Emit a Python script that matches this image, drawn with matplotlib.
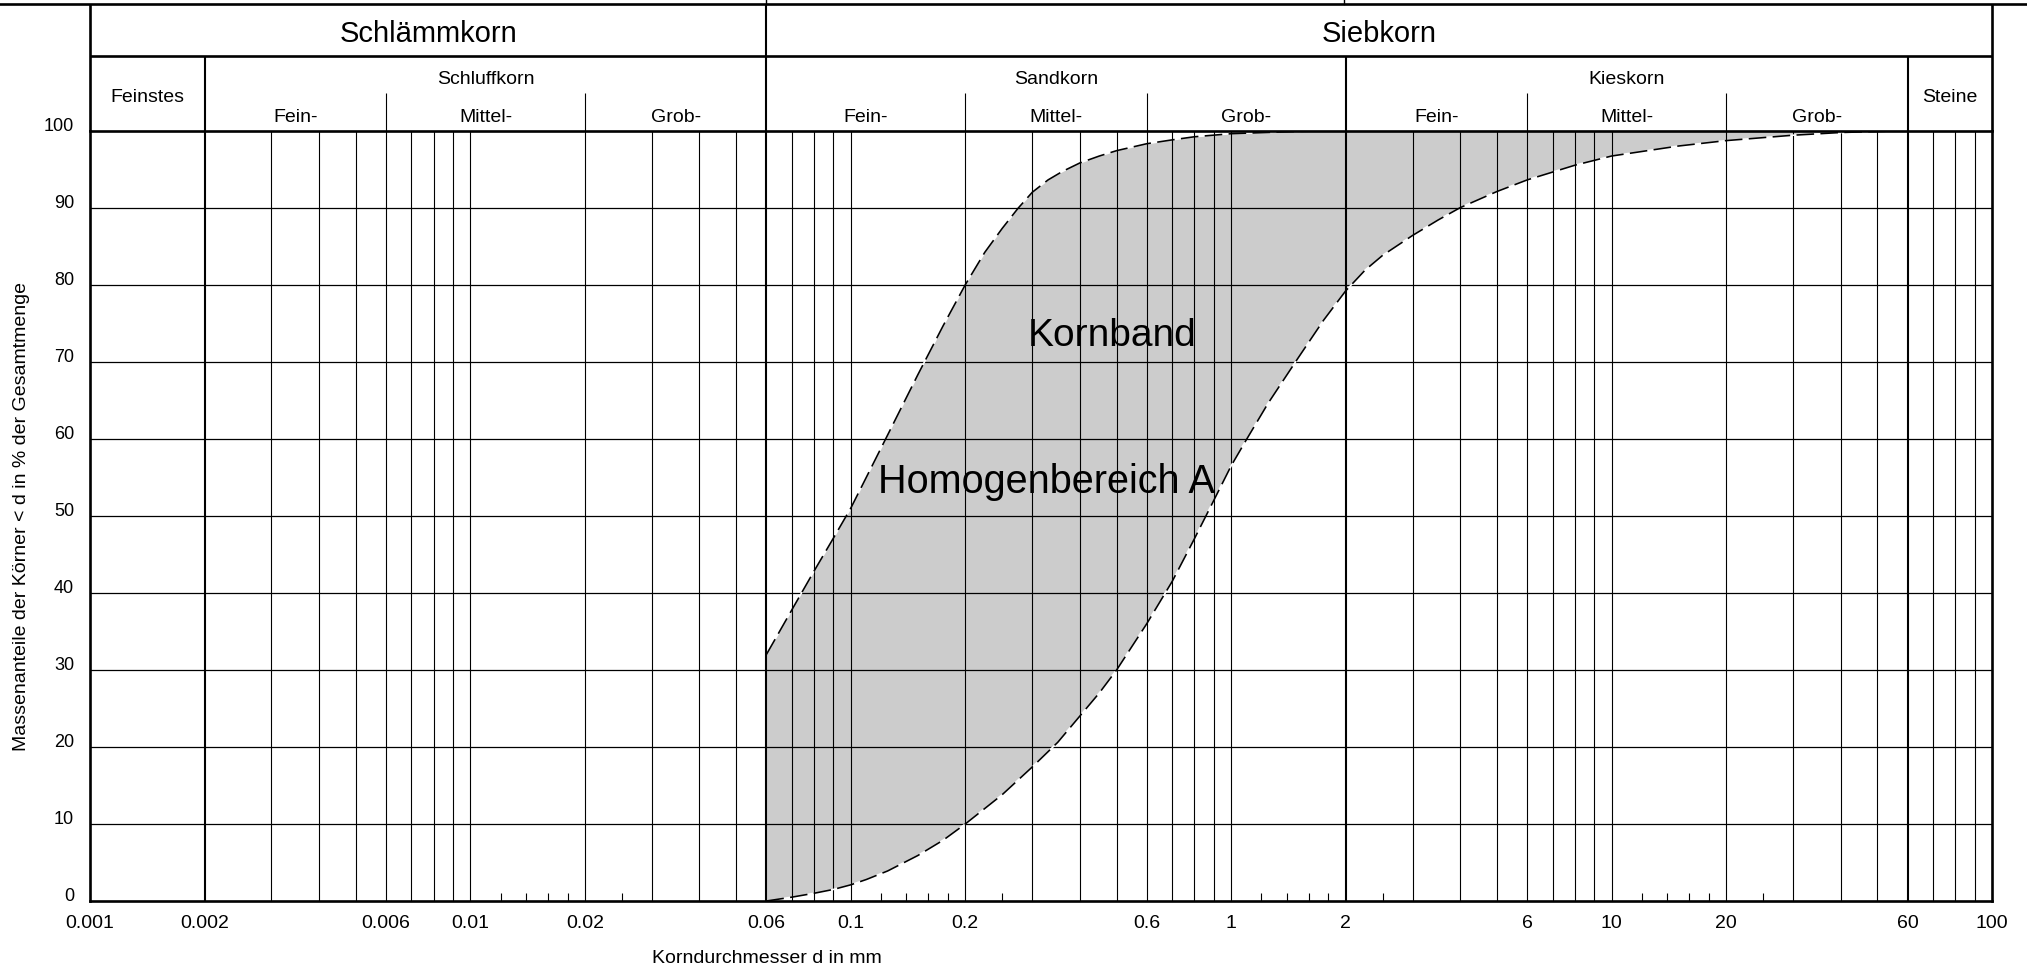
import matplotlib
matplotlib.use("Agg")
import matplotlib.pyplot as plt
from matplotlib.lines import Line2D
from matplotlib.ticker import NullFormatter
from matplotlib.transforms import blended_transform_factory
import numpy as np

plt.rcParams["font.family"] = ["Liberation Sans", "DejaVu Sans"]

# percent passing axis
pct_ticks = [0, 10, 20, 30, 40, 50, 60, 70, 80, 90, 100]

# labelled grain diameters in mm
d_labels = [0.001, 0.002, 0.006, 0.01, 0.02, 0.06, 0.1, 0.2, 0.6, 1, 2, 6, 10, 20, 60, 100]
d_label_text = ["0.001", "0.002", "0.006", "0.01", "0.02", "0.06", "0.1", "0.2",
                "0.6", "1", "2", "6", "10", "20", "60", "100"]

# full height grid lines
d_grid = [0.003, 0.004, 0.005, 0.006, 0.007, 0.008, 0.009, 0.01, 0.02, 0.03, 0.04, 0.05,
          0.07, 0.08, 0.09, 0.1, 0.2, 0.3, 0.4, 0.5, 0.6, 0.7, 0.8, 0.9, 1,
          3, 4, 5, 6, 7, 8, 9, 10, 20, 30, 40, 50, 70, 80, 90]
# group boundaries (heavier lines)
d_main = [0.002, 0.06, 2, 60]
# short ticks on the diameter axis
d_short = [0.012, 0.014, 0.016, 0.018, 0.025,
           0.12, 0.14, 0.16, 0.18, 0.25,
           1.2, 1.4, 1.6, 1.8, 2.5,
           12, 14, 16, 18, 25]

# grading band, fine limit
fine_d = [0.06, 0.07, 0.08, 0.09, 0.1, 0.125, 0.15, 0.175, 0.2, 0.225, 0.25, 0.275,
          0.3, 0.33, 0.36, 0.4, 0.45, 0.5, 0.6, 0.7, 0.8, 1.0, 1.5, 2, 6]
fine_pct = [32, 37.8, 42.8, 47.1, 51, 60.5, 68.3, 74.7, 80, 84.2, 87.3, 89.9,
            92, 93.6, 94.7, 95.8, 96.7, 97.4, 98.3, 98.8, 99.2, 99.6, 99.9, 100, 100]

# grading band, coarse limit
coarse_d = [0.06, 0.07, 0.08, 0.09, 0.1, 0.11, 0.125, 0.15, 0.175, 0.2, 0.25, 0.3, 0.35,
            0.4, 0.45, 0.5, 0.6, 0.7, 0.8, 0.9, 1.0, 1.1, 1.25, 1.5, 1.75, 2, 2.25, 2.5,
            3, 3.5, 4, 5, 6, 8, 10, 15, 20, 30, 40, 60]
coarse_pct = [0, 0.5, 1.0, 1.5, 2.1, 2.8, 3.9, 5.9, 7.9, 10, 13.8, 17.4, 20.6,
              24, 27, 30, 36, 41.5, 47, 52, 56.5, 60, 64.6, 70.5, 75.4, 79.2, 81.9, 83.8,
              86.4, 88.4, 90, 92.1, 93.6, 95.5, 96.7, 98, 98.7, 99.4, 99.75, 100]

# header: soil groups
top_groups = ["Schlämmkorn", "Siebkorn"]
top_bounds = [0.001, 0.06, 100]
mid_groups = ["Feinstes", "Schluffkorn", "Sandkorn", "Kieskorn", "Steine"]
mid_bounds = [0.001, 0.002, 0.06, 2, 60, 100]
sub_names = ["Fein-", "Mittel-", "Grob-"]
sub_bounds = {
    "Schluffkorn": [0.002, 0.006, 0.02, 0.06],
    "Sandkorn": [0.06, 0.2, 0.6, 2],
    "Kieskorn": [2, 6, 20, 60],
}

W, H = 2027, 969
fig = plt.figure(figsize=(W / 100, H / 100), dpi=100)
ax = fig.add_axes([90 / W, 68 / H, (1992 - 90) / W, (901 - 130.6) / H])

ax.set_xscale("log")
ax.set_xlim(0.001, 100)
ax.set_ylim(0, 100)

# band
poly_x = np.concatenate([fine_d, coarse_d[::-1]])
poly_y = np.concatenate([fine_pct, coarse_pct[::-1]])
ax.fill(poly_x, poly_y, color="#cccccc", lw=0, zorder=1)

# grid
for p in pct_ticks[1:-1]:
    ax.axhline(p, color="black", lw=0.9, zorder=2)
for d in d_grid:
    ax.axvline(d, color="black", lw=0.8, zorder=2)
for d in d_main:
    ax.axvline(d, color="black", lw=1.5, zorder=2)

# band limits
for xs, ys in [(fine_d, fine_pct), (coarse_d, coarse_pct)]:
    ax.plot(xs, ys, color="black", lw=1.15, ls=(0, (11, 4)), gapcolor="white", zorder=3)

ax.text(0.485, 72, "Kornband", fontsize=28, ha="center", va="baseline", zorder=4)
ax.text(0.326, 53, "Homogenbereich A", fontsize=28.5, ha="center", va="baseline", zorder=4)

# axes frame and ticks
for s in ax.spines.values():
    s.set_linewidth(1.9)
    s.set_zorder(5)
ax.set_xticks(d_labels, labels=d_label_text)
ax.set_xticks(d_short, minor=True)
ax.xaxis.set_minor_formatter(NullFormatter())
ax.tick_params(axis="x", which="major", length=0, pad=10, labelsize=14)
ax.tick_params(axis="x", which="minor", direction="in", length=5.8, width=0.8)
ax.set_yticks(pct_ticks)
ax.tick_params(axis="y", length=0, pad=11.5, labelsize=13)
for lbl in ax.get_yticklabels():
    lbl.set_verticalalignment("baseline")

# header table above the plot
hdr = blended_transform_factory(ax.transData, fig.transFigure)
y_top = 1 - 4 / H
y_row = 1 - 56 / H
y_sub = 1 - 93.3 / H
y_grid = 1 - 130.6 / H


def vline(x, y0, y1, lw):
    ax.plot([x, x], [y0, y1], color="black", lw=lw, transform=hdr, clip_on=False,
            solid_capstyle="butt")


fig.add_artist(Line2D([0, 1], [y_top, y_top], color="black", lw=1.9,
                      transform=fig.transFigure))
for fx in [766 / W, 1344 / W]:
    fig.add_artist(Line2D([fx, fx], [y_top, 1], color="black", lw=1.0,
                          transform=fig.transFigure))
ax.plot([0.001, 100], [y_row, y_row], color="black", lw=1.9, transform=hdr,
        clip_on=False, solid_capstyle="butt")
for x in [0.001, 100]:
    vline(x, y_grid, y_top, 1.9)
vline(0.06, y_grid, y_top, 1.5)
for x in [0.002, 2, 60]:
    vline(x, y_grid, y_row, 1.5)


def gmean(a, b):
    return np.sqrt(a * b)


for name, a, b in zip(top_groups, top_bounds[:-1], top_bounds[1:]):
    ax.text(gmean(a, b), 1 - 41.7 / H, name, transform=hdr, ha="center",
            va="baseline", fontsize=21)

for name, a, b in zip(mid_groups, mid_bounds[:-1], mid_bounds[1:]):
    if name in sub_bounds:
        ax.text(gmean(a, b), 1 - 84 / H, name, transform=hdr, ha="center",
                va="baseline", fontsize=14)
        edges = sub_bounds[name]
        for x in edges[1:-1]:
            vline(x, y_grid, y_sub, 0.8)
        for sub, s0, s1 in zip(sub_names, edges[:-1], edges[1:]):
            ax.text(gmean(s0, s1), 1 - 122 / H, sub, transform=hdr, ha="center",
                    va="baseline", fontsize=14)
    else:
        ax.text(gmean(a, b), 1 - 101.7 / H, name, transform=hdr, ha="center",
                va="baseline", fontsize=14)

# axis titles
ax.text(0.06, 5.7 / H, "Korndurchmesser d in mm", transform=hdr, ha="center",
        va="baseline", fontsize=14)
fig.text(22 / W, 0.4665, "Massenanteile der Körner < d in % der Gesamtmenge",
         rotation=90, ha="center", va="center", fontsize=14)

fig.savefig("out.png", dpi=100)
